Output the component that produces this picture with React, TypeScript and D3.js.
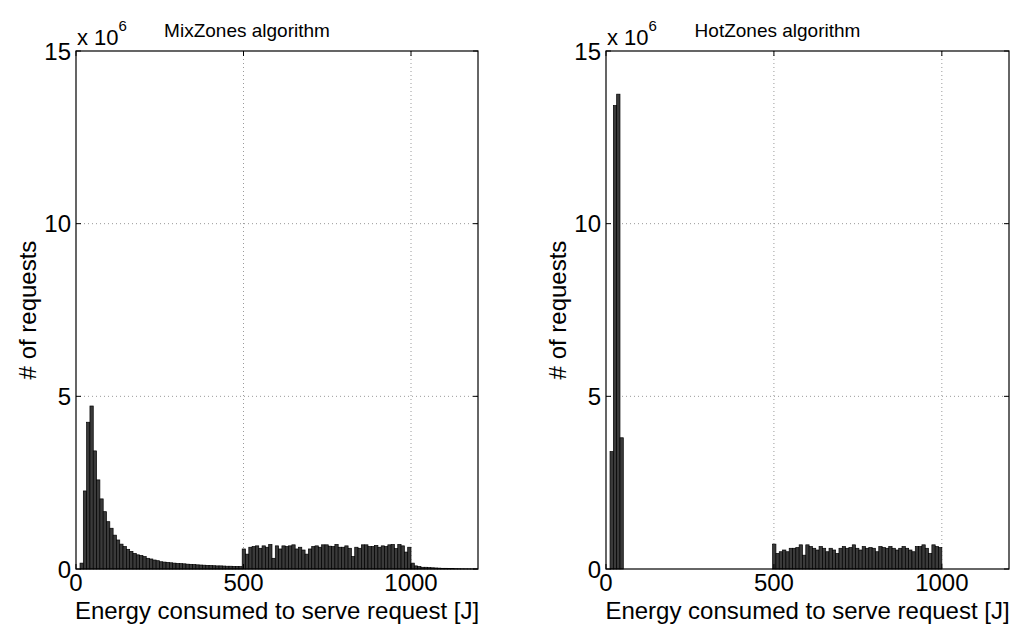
import React from "react";
import * as d3 from "d3";

// ---- data (counts in millions of requests) ----
const binStart = 12; // J
const binWidth = 9.88; // J
const xTicks = [0, 500, 1000];
const yTicks = [0, 5, 10, 15];
const titles = ["MixZones algorithm", "HotZones algorithm"];

const mixLow = [
  0.17, 2.26, 4.25, 4.72, 3.42, 2.58, 2.03, 1.66, 1.37, 1.18, 0.98, 0.84, 0.72,
  0.65, 0.57, 0.51, 0.45, 0.41, 0.39, 0.36, 0.31, 0.29, 0.26, 0.24, 0.21, 0.2,
  0.19, 0.18, 0.17, 0.16, 0.155, 0.15, 0.14, 0.135, 0.13, 0.12, 0.115, 0.11,
  0.105, 0.1, 0.095, 0.09, 0.09, 0.085, 0.08, 0.08, 0.075, 0.075, 0.07,
];
const mixMid = [
  0.58, 0.43, 0.63, 0.65, 0.67, 0.6, 0.67, 0.63, 0.71, 0.31, 0.67, 0.58, 0.67,
  0.65, 0.67, 0.7, 0.58, 0.63, 0.55, 0.43, 0.58, 0.65, 0.67, 0.63, 0.7, 0.7,
  0.66, 0.65, 0.71, 0.63, 0.63, 0.67, 0.6, 0.36, 0.63, 0.6, 0.7, 0.7, 0.65,
  0.65, 0.68, 0.63, 0.67, 0.65, 0.7, 0.71, 0.59, 0.71, 0.67, 0.49, 0.63,
];
const mixTail = [
  0.17, 0.09, 0.07, 0.05, 0.05, 0.04, 0.035, 0.03, 0.025, 0.02, 0.02, 0.015,
  0.012, 0.01, 0.008, 0.006, 0.005, 0.004, 0.003, 0.002,
];

const hotLow = [3.4, 13.42, 13.75, 3.8];
const hotGap = 45; // empty bins between the peak and 500 J
const hotMid = [
  0.72, 0.45, 0.5, 0.55, 0.5, 0.6, 0.6, 0.62, 0.7, 0.4, 0.7, 0.65, 0.6, 0.55,
  0.65, 0.6, 0.5, 0.6, 0.55, 0.45, 0.6, 0.65, 0.6, 0.62, 0.7, 0.6, 0.55, 0.65,
  0.6, 0.62, 0.6, 0.5, 0.65, 0.62, 0.6, 0.65, 0.6, 0.55, 0.6, 0.65, 0.6, 0.55,
  0.5, 0.65, 0.65, 0.7, 0.6, 0.45, 0.7, 0.65, 0.62,
];

const mixCounts = [...mixLow, ...mixMid, ...mixTail];
const hotCounts = [...hotLow, ...new Array(hotGap).fill(0), ...hotMid];

const FONT = "'Liberation Sans', Arial, Helvetica, sans-serif";

type PanelProps = { x0: number; x1: number; counts: number[]; title: string };

function Panel({ x0, x1, counts, title }: PanelProps) {
  const yTop = 51;
  const yBot = 569;
  const x = d3.scaleLinear().domain([0, 1200]).range([x0, x1]);
  const y = d3.scaleLinear().domain([0, 15]).range([yBot, yTop]);
  const tick = 5;
  const bins = counts.map((c, i) => ({
    a: binStart + i * binWidth,
    b: binStart + (i + 1) * binWidth,
    c,
  }));
  return (
    <g>
      {/* grid */}
      {xTicks
        .filter((t) => t > 0 && t < 1200)
        .map((t) => (
          <line
            key={"gx" + t}
            x1={x(t)}
            x2={x(t)}
            y1={yTop}
            y2={yBot}
            stroke="#9a9a9a"
            strokeWidth={1}
            strokeDasharray="1,3"
          />
        ))}
      {yTicks
        .filter((t) => t > 0 && t < 15)
        .map((t) => (
          <line
            key={"gy" + t}
            x1={x0}
            x2={x1}
            y1={y(t)}
            y2={y(t)}
            stroke="#9a9a9a"
            strokeWidth={1}
            strokeDasharray="1,3"
          />
        ))}
      {/* bars */}
      {bins
        .filter((d) => d.c > 0 && d.a < 1200)
        .map((d, i) => (
          <rect
            key={i}
            x={x(d.a)}
            y={y(d.c)}
            width={x(Math.min(d.b, 1200)) - x(d.a)}
            height={yBot - y(d.c)}
            fill="#3a3a3a"
            stroke="#000"
            strokeWidth={0.7}
          />
        ))}
      {/* box */}
      <rect
        x={x0}
        y={yTop}
        width={x1 - x0}
        height={yBot - yTop}
        fill="none"
        stroke="#000"
        strokeWidth={1.2}
      />
      {/* ticks */}
      {xTicks.map((t) => (
        <g key={"xt" + t}>
          <line x1={x(t)} x2={x(t)} y1={yBot} y2={yBot - tick} stroke="#000" />
          <line x1={x(t)} x2={x(t)} y1={yTop} y2={yTop + tick} stroke="#000" />
          <text
            x={x(t)}
            y={yBot + 22}
            textAnchor="middle"
            fontSize={24}
            fontFamily={FONT}
          >
            {t}
          </text>
        </g>
      ))}
      {yTicks.map((t) => (
        <g key={"yt" + t}>
          <line x1={x0} x2={x0 + tick} y1={y(t)} y2={y(t)} stroke="#000" />
          <line x1={x1} x2={x1 - tick} y1={y(t)} y2={y(t)} stroke="#000" />
          <text
            x={x0 - 5}
            y={y(t) + 8.5}
            textAnchor="end"
            fontSize={24}
            fontFamily={FONT}
          >
            {t}
          </text>
        </g>
      ))}
      {/* exponent */}
      <text x={x0 + 1} y={45} fontSize={22} fontFamily={FONT}>
        x 10
        <tspan dy={-14} fontSize={15}>
          6
        </tspan>
      </text>
      {/* title */}
      <text
        x={(x0 + x1) / 2 - 30}
        y={37}
        textAnchor="middle"
        fontSize={19}
        fontFamily={FONT}
      >
        {title}
      </text>
      {/* x label */}
      <text
        x={(x0 + x1) / 2}
        y={619}
        textAnchor="middle"
        fontSize={24}
        fontFamily={FONT}
      >
        Energy consumed to serve request [J]
      </text>
      {/* y label */}
      <text
        transform={`translate(${x0 - 40},${(yTop + yBot) / 2}) rotate(-90)`}
        textAnchor="middle"
        fontSize={24}
        fontFamily={FONT}
      >
        # of requests
      </text>
    </g>
  );
}

export default function App() {
  return (
    <div style={{ position: "absolute", left: 0, top: 0 }}>
      <svg width={1034} height={630} style={{ display: "block", background: "#fff" }}>
        <Panel x0={76} x1={478} counts={mixCounts} title={titles[0]} />
        <Panel x0={606} x1={1009} counts={hotCounts} title={titles[1]} />
      </svg>
    </div>
  );
}
